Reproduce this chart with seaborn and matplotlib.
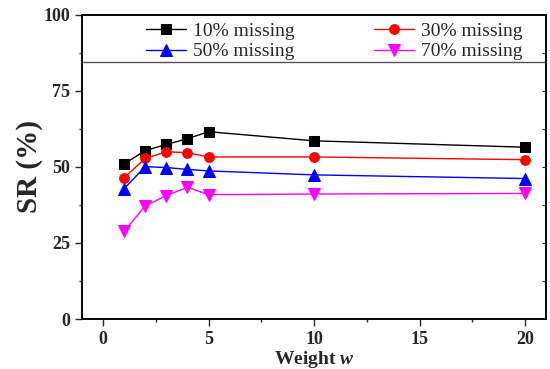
import pandas as pd
import numpy as np
import matplotlib
matplotlib.use("Agg")
import matplotlib.pyplot as plt
import seaborn as sns

# ==========================================
# DATA
# ==========================================

weights = [1, 2, 3, 4, 5, 10, 20]
sr_10 = [51.0, 55.4, 57.4, 59.3, 61.6, 58.6, 56.5]
sr_30 = [46.5, 52.8, 55.0, 54.7, 53.3, 53.3, 52.4]
sr_50 = [42.9, 50.1, 49.8, 49.2, 48.7, 47.4, 46.2]
sr_70 = [28.9, 37.2, 40.6, 43.3, 40.9, 41.1, 41.3]

labels = ["10% missing", "30% missing", "50% missing", "70% missing"]
colors = ["black", "red", "blue", "magenta"]
markers = ["s", "o", "^", "v"]
msizes = [6.5, 7, 8, 8]

df = pd.DataFrame({
    "w": weights * 4,
    "SR": sr_10 + sr_30 + sr_50 + sr_70,
    "series": np.repeat(labels, len(weights)),
})

# ==========================================
# STYLE
# ==========================================

sns.set_style("ticks")
plt.rcParams["font.family"] = ["Liberation Serif", "DejaVu Serif"]
plt.rcParams["mathtext.fontset"] = "custom"
plt.rcParams["mathtext.it"] = "Liberation Serif:italic:bold"

fig = plt.figure(figsize=(5.5, 3.69), dpi=100)
ax = fig.add_axes([0.149, 0.1355, 0.844, 0.824])

# ==========================================
# PLOT
# ==========================================

for lab, col, mk, ms in zip(labels, colors, markers, msizes):
    sns.lineplot(data=df[df["series"] == lab], x="w", y="SR", ax=ax,
                 color=col, marker=mk, markersize=ms,
                 linewidth=1, label=lab)

# solid markers (seaborn draws white edges by default)
for line in ax.lines:
    line.set_markeredgecolor(line.get_color())

ax.set_xlim(-1, 21)
ax.set_ylim(0, 100)
ax.set_xticks([0, 5, 10, 15, 20])
ax.set_xticks(np.arange(2.5, 21, 5), minor=True)
ax.set_yticks([0, 25, 50, 75, 100])
ax.set_yticks(np.arange(12.5, 100, 25), minor=True)

ax.tick_params(axis="both", which="major", direction="out", length=5,
               width=1, labelsize=13)
ax.tick_params(axis="both", which="minor", direction="out", length=2.5,
               width=1)
for lbl in ax.get_xticklabels() + ax.get_yticklabels():
    lbl.set_fontweight("bold")

# right side ticks pointing inward
ax2 = ax.twinx()
ax2.set_ylim(0, 100)
ax2.set_yticks(np.arange(12.5, 100, 12.5))
ax2.tick_params(axis="y", direction="in", length=3, labelright=False)

for a in (ax, ax2):
    for s in a.spines.values():
        s.set_linewidth(1.1)
        s.set_color("black")

ax.set_xlabel("Weight $w$", fontsize=14, fontweight="bold", labelpad=1)
ax.set_ylabel("SR (%)", fontsize=21, fontweight="bold", labelpad=0)

# legend box across the top of the plot, filled row by row
ax.axhline(84.5, color="#555555", linewidth=1)
handles, labs = ax.get_legend_handles_labels()
order = [0, 2, 1, 3]
leg = ax.legend([handles[i] for i in order], [labs[i] for i in order],
                loc="center", bbox_to_anchor=(0.543, 0.913), ncol=2,
                frameon=False, fontsize=14, handlelength=2.05,
                handletextpad=0.35, columnspacing=4.1, labelspacing=0.15,
                borderpad=0.2)
for h in leg.legend_handles:
    h.set_markeredgecolor(h.get_color())

fig.savefig("out.png", dpi=100)
